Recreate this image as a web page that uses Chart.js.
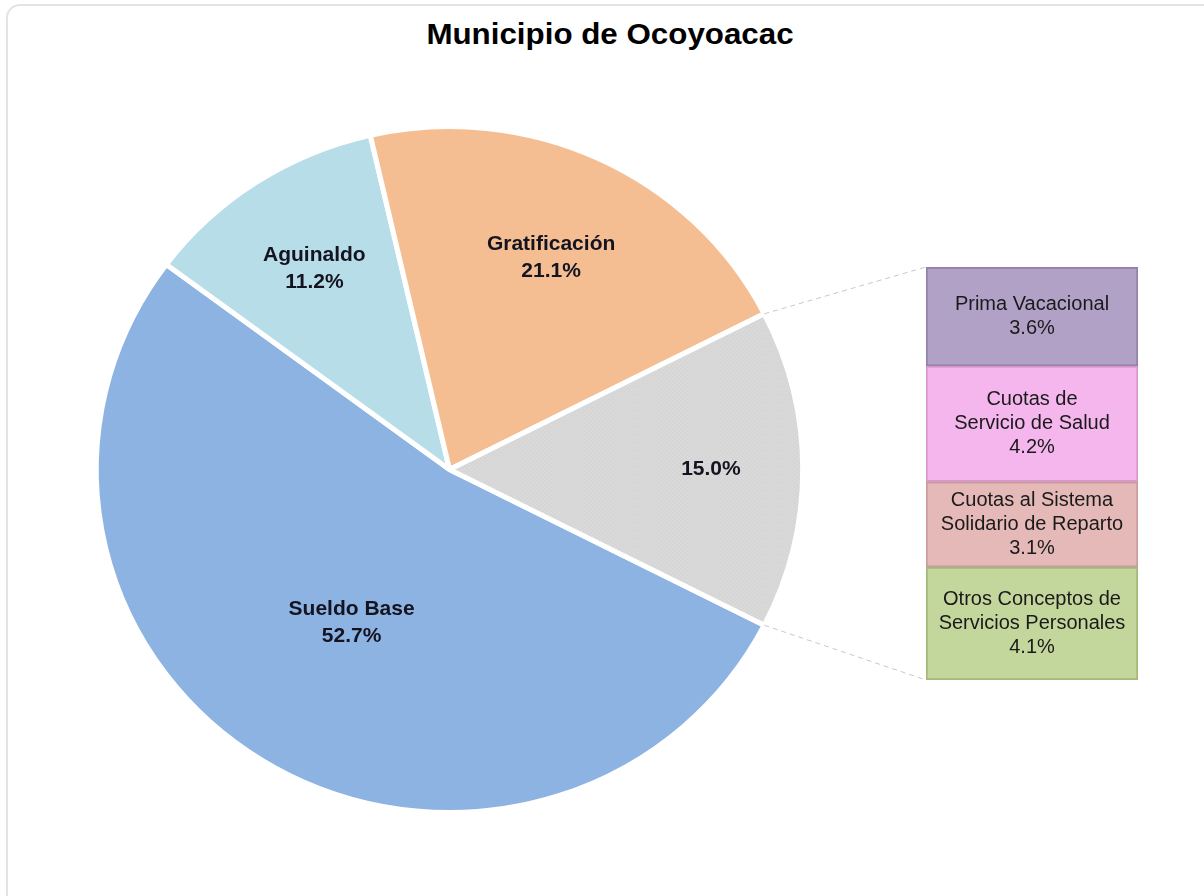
<!DOCTYPE html>
<html>
<head>
<meta charset="utf-8">
<script src="https://cdn.jsdelivr.net/npm/chart.js@4.4.0/dist/chart.umd.min.js"></script>
<style>
  body { margin: 0; background: #fff; }
  #card { position: absolute; left: 6px; top: 4px; width: 1210px; height: 910px; border: 2px solid #e4e4e4; border-radius: 14px; }
  #title { position: absolute; left: 0; top: 18px; width: 1220px; text-align: center; line-height: 34px;
           font: bold 29px "Liberation Sans", Arial, sans-serif; color: #000; transform: scaleX(1.08); transform-origin: 610px 0; }
  canvas { position: absolute; left: 0; top: 0; }
</style>
</head>
<body>
<div id="card"></div>
<div id="title">Municipio de Ocoyoacac</div>
<canvas id="pie" width="1204" height="896"></canvas>
<canvas id="bar" width="1204" height="896"></canvas>
<script>
  // pie: main concepts, last slice is broken out in the bar
  const pieLabels = ['Sueldo Base', 'Aguinaldo', 'Gratificación', ''];
  const pieValues = [52.7, 11.2, 21.1, 15.0];

  // bar: bottom to top
  const barLabels = ['Otros Conceptos de\nServicios Personales', 'Cuotas al Sistema\nSolidario de Reparto', 'Cuotas de\nServicio de Salud', 'Prima Vacacional'];
  const barValues = [4.1, 3.1, 4.2, 3.6];

  const pieColors = ['#8DB3E2', '#B7DDE8', '#F4BE92'];
  const barColors = ['#C3D69B', '#E5B9B8', '#F4B6EC', '#B2A1C7'];
  const barBorders = ['#A3B878', '#C99C9B', '#D898CE', '#9181A8'];
  const labelRadius = [0.525, 0.70, 0.68, 0.74];
  const SX = 1.03; // the original pie is a bit wider than tall

  // dotted grey fill for the "others" slice
  const pc = document.createElement('canvas');
  pc.width = 4; pc.height = 4;
  const pctx = pc.getContext('2d');
  pctx.fillStyle = '#D6D6D6';
  pctx.fillRect(0, 0, 4, 4);
  pctx.fillStyle = '#E2E2E2';
  pctx.fillRect(0, 0, 1, 1);
  pctx.fillRect(2, 2, 1, 1);
  const greyPattern = pctx.createPattern(pc, 'repeat');

  const pieLabelPlugin = {
    id: 'pieLabels',
    beforeDatasetsDraw(chart) {
      const a = chart.getDatasetMeta(0).data[0];
      const ctx = chart.ctx;
      ctx.save();
      ctx.translate(a.x, a.y);
      ctx.scale(SX, 1);
      ctx.translate(-a.x, -a.y);
    },
    afterDatasetsDraw(chart) {
      const ctx = chart.ctx;
      ctx.restore();
      const arcs = chart.getDatasetMeta(0).data;
      ctx.save();
      ctx.font = 'bold 21px "Liberation Sans", Arial, sans-serif';
      ctx.fillStyle = '#141420';
      ctx.textAlign = 'center';
      ctx.textBaseline = 'middle';
      arcs.forEach((a, i) => {
        const mid = (a.startAngle + a.endAngle) / 2;
        const r = a.outerRadius * labelRadius[i];
        const x = a.x + Math.cos(mid) * r * SX;
        const y = a.y + Math.sin(mid) * r;
        const lines = [];
        if (pieLabels[i]) lines.push(pieLabels[i]);
        lines.push(pieValues[i].toFixed(1) + '%');
        const lh = 27;
        lines.forEach((t, k) => {
          ctx.fillText(t, x, y + (k - (lines.length - 1) / 2) * lh);
        });
      });
      ctx.restore();
    }
  };

  const pieChart = new Chart(document.getElementById('pie'), {
    type: 'pie',
    data: {
      labels: pieLabels,
      datasets: [{
        data: pieValues,
        backgroundColor: [...pieColors, greyPattern],
        borderColor: '#fff',
        borderWidth: 5
      }]
    },
    options: {
      responsive: false,
      animation: false,
      rotation: 117,
      layout: { padding: { left: 104, right: 409, top: 124, bottom: 81 } },
      plugins: { legend: { display: false }, tooltip: { enabled: false } }
    },
    plugins: [pieLabelPlugin]
  });

  const barLabelPlugin = {
    id: 'barLabels',
    afterDatasetsDraw(chart) {
      const ctx = chart.ctx;
      ctx.save();
      ctx.font = '20px "Liberation Sans", Arial, sans-serif';
      ctx.fillStyle = '#1a1a1a';
      ctx.textAlign = 'center';
      ctx.textBaseline = 'middle';
      chart.data.datasets.forEach((ds, i) => {
        const el = chart.getDatasetMeta(i).data[0];
        const cy = (el.y + el.base) / 2;
        const lines = barLabels[i].split('\n');
        lines.push(barValues[i].toFixed(1) + '%');
        const lh = 24;
        lines.forEach((t, k) => {
          ctx.fillText(t, el.x, cy + (k - (lines.length - 1) / 2) * lh);
        });
      });
      ctx.restore();
    }
  };

  // dashed lines from the grey slice to the bar
  const connectorPlugin = {
    id: 'connector',
    beforeDatasetsDraw(chart) {
      const a = pieChart.getDatasetMeta(0).data[3];
      const topEl = chart.getDatasetMeta(barValues.length - 1).data[0];
      const botEl = chart.getDatasetMeta(0).data[0];
      const left = topEl.x - topEl.width / 2;
      const R = a.outerRadius;
      const ctx = chart.ctx;
      ctx.save();
      ctx.strokeStyle = '#c8c8c8';
      ctx.lineWidth = 1;
      ctx.setLineDash([5, 4]);
      ctx.beginPath();
      ctx.moveTo(a.x + Math.cos(a.startAngle) * R * SX, a.y + Math.sin(a.startAngle) * R);
      ctx.lineTo(left, topEl.y);
      ctx.moveTo(a.x + Math.cos(a.endAngle) * R * SX, a.y + Math.sin(a.endAngle) * R);
      ctx.lineTo(left, botEl.base);
      ctx.stroke();
      ctx.restore();
    }
  };

  new Chart(document.getElementById('bar'), {
    type: 'bar',
    data: {
      labels: [''],
      datasets: barValues.map((v, i) => ({
        label: barLabels[i],
        data: [v],
        backgroundColor: barColors[i],
        borderColor: barBorders[i],
        borderWidth: 2,
        borderSkipped: false,
        barPercentage: 1,
        categoryPercentage: 1
      }))
    },
    options: {
      responsive: false,
      animation: false,
      layout: { padding: { left: 926, right: 66, top: 267, bottom: 216 } },
      scales: {
        x: { stacked: true, display: false },
        y: { stacked: true, display: false, min: 0, max: 15 }
      },
      plugins: { legend: { display: false }, tooltip: { enabled: false } }
    },
    plugins: [barLabelPlugin, connectorPlugin]
  });
</script>
</body>
</html>
